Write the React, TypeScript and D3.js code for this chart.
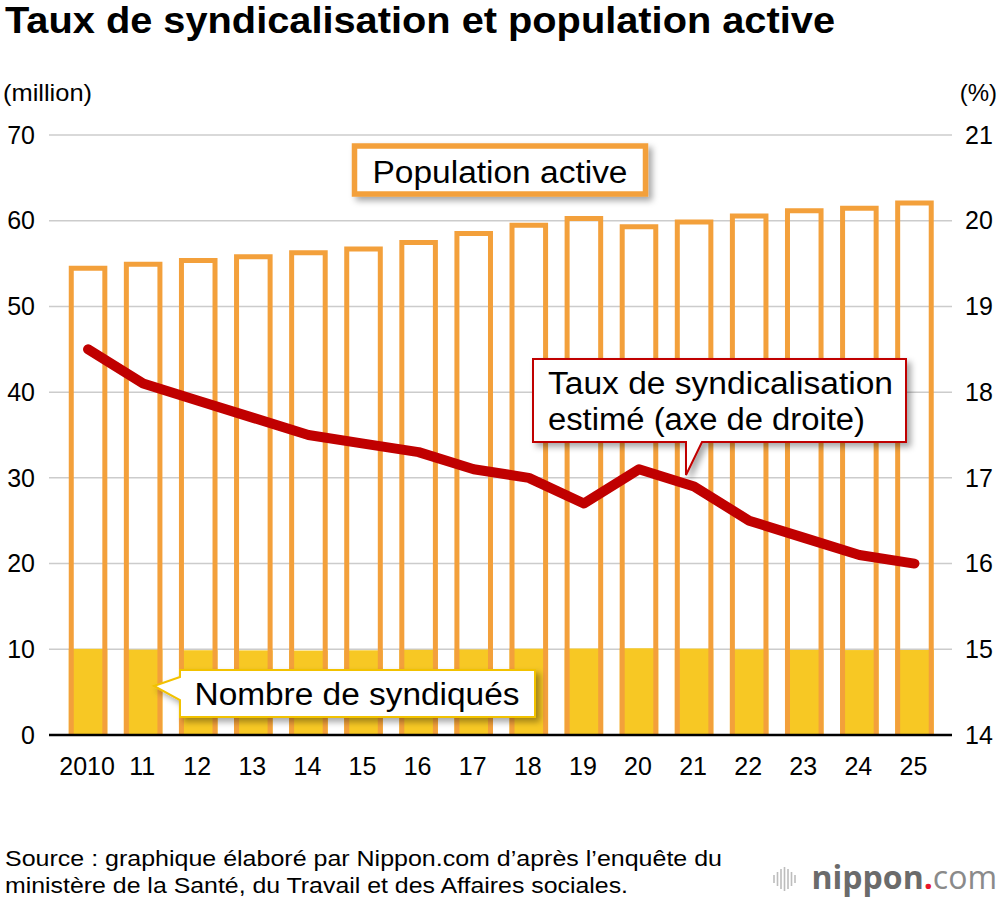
import React, { useEffect } from "react";
import * as d3 from "d3";

// années (axe x)
const years = ["2010", "11", "12", "13", "14", "15", "16", "17", "18", "19", "20", "21", "22", "23", "24", "25"];
// population active (millions)
const employees = [54.75, 55.2, 55.65, 56.1, 56.55, 57.0, 57.75, 58.8, 59.75, 60.55, 59.6, 60.15, 60.85, 61.45, 61.75, 62.35];
// nombre de syndiqués (millions)
const members = [10.05, 9.96, 9.89, 9.87, 9.85, 9.88, 9.94, 9.98, 10.07, 10.09, 10.12, 10.08, 9.99, 9.94, 9.91, 9.92];
// taux de syndicalisation estimé (%)
const rate = [18.5, 18.1, 17.9, 17.7, 17.5, 17.4, 17.3, 17.1, 17.0, 16.7, 17.1, 16.9, 16.5, 16.3, 16.1, 16.0];

const leftTicks = [0, 10, 20, 30, 40, 50, 60, 70];
const rightTicks = [14, 15, 16, 17, 18, 19, 20, 21];

const ORANGE = "#f3a03b";
const YELLOW = "#f7c824";
const RED = "#c00000";
const FONT = "'Liberation Sans', Arial, Helvetica, sans-serif";
const LOGO_FONT = "'Open Sans', 'DejaVu Sans', sans-serif";

const App: React.FC = () => {
  useEffect(() => {
    document.body.style.margin = "0";
  }, []);

  const x = d3
    .scaleBand<string>()
    .domain(years)
    .range([60.5, 942])
    .paddingInner(0.3)
    .paddingOuter(0.15);
  const yL = d3.scaleLinear().domain([0, 70]).range([735, 135]);
  const yR = d3.scaleLinear().domain([14, 21]).range([735, 135]);
  const bw = x.bandwidth();
  const sw = 5;

  const line = d3
    .line<number>()
    .x((_, i) => x(years[i])! + bw / 2)
    .y((d) => yR(d));

  return (
    <svg width={1000} height={902} style={{ display: "block", background: "#fff" }} fontFamily={FONT}>
      <defs>
        <filter id="shadow" x="-10%" y="-30%" width="130%" height="180%">
          <feDropShadow dx="4" dy="4" stdDeviation="3" floodColor="#000" floodOpacity="0.35" />
        </filter>
      </defs>

      <text x={5} y={33} fontSize={36} fontWeight="bold" textLength={830} lengthAdjust="spacingAndGlyphs">
        Taux de syndicalisation et population active
      </text>
      <text x={3} y={101} fontSize={24} textLength={89} lengthAdjust="spacingAndGlyphs">
        (million)
      </text>
      <text x={997} y={101} fontSize={24} textAnchor="end">
        (%)
      </text>

      {/* grille */}
      {leftTicks.filter((t) => t > 0).map((t) => (
        <line key={t} x1={49} x2={952} y1={yL(t)} y2={yL(t)} stroke="#cccccc" strokeWidth={1.5} />
      ))}

      {/* tick labels */}
      {leftTicks.map((t) => (
        <text key={t} x={35} y={yL(t)} dy="0.35em" fontSize={25} textAnchor="end">
          {t}
        </text>
      ))}
      {rightTicks.map((t) => (
        <text key={t} x={965} y={yR(t)} dy="0.35em" fontSize={25}>
          {t}
        </text>
      ))}
      {years.map((yr) => (
        <text key={yr} x={x(yr)! + bw / 2 - 1} y={775} fontSize={25} textAnchor="middle">
          {yr}
        </text>
      ))}

      {/* syndiqués */}
      {members.map((v, i) => (
        <rect key={i} x={x(years[i])} y={yL(v)} width={bw} height={yL(0) - yL(v)} fill={YELLOW} />
      ))}
      {/* population active */}
      {employees.map((v, i) => {
        const x0 = x(years[i])! + sw / 2;
        const x1 = x(years[i])! + bw - sw / 2;
        const top = yL(v) + sw / 2;
        return (
          <path
            key={i}
            d={`M${x0},${yL(0)}V${top}H${x1}V${yL(0)}`}
            fill="none"
            stroke={ORANGE}
            strokeWidth={sw}
          />
        );
      })}

      <line x1={49} x2={952} y1={yL(0)} y2={yL(0)} stroke="#000" strokeWidth={2.5} />

      <path d={line(rate)!} fill="none" stroke={RED} strokeWidth={10} strokeLinejoin="round" strokeLinecap="round" />

      {/* Population active */}
      <g filter="url(#shadow)">
        <rect x={354.5} y={146} width={291} height={48} fill="#fff" stroke={ORANGE} strokeWidth={5.5} />
      </g>
      <text x={500} y={183} fontSize={31} textAnchor="middle" textLength={255} lengthAdjust="spacingAndGlyphs">
        Population active
      </text>

      {/* Taux callout */}
      <path
        d="M533,359H906V442H702L686,475V442H533Z"
        fill="#fff"
        stroke={RED}
        strokeWidth={2}
        filter="url(#shadow)"
      />
      <text x={548} y={394} fontSize={31} textLength={345} lengthAdjust="spacingAndGlyphs">
        Taux de syndicalisation
      </text>
      <text x={548} y={430} fontSize={31} textLength={317} lengthAdjust="spacingAndGlyphs">
        estimé (axe de droite)
      </text>

      {/* Nombre callout */}
      <path
        d="M180,670H535V717H180V700L154,686L180,677Z"
        fill="#fff"
        stroke="#f2c200"
        strokeWidth={2}
        filter="url(#shadow)"
      />
      <text x={357} y={705} fontSize={31} textAnchor="middle" textLength={325} lengthAdjust="spacingAndGlyphs">
        Nombre de syndiqués
      </text>

      {/* source */}
      <text x={5} y={866} fontSize={22} textLength={717} lengthAdjust="spacingAndGlyphs">
        Source : graphique élaboré par Nippon.com d’après l’enquête du
      </text>
      <text x={5} y={893} fontSize={22} textLength={623} lengthAdjust="spacingAndGlyphs">
        ministère de la Santé, du Travail et des Affaires sociales.
      </text>

      {/* logo */}
      <g stroke="#bdbdbd" strokeWidth={1.6}>
        {[8, 14, 20, 24, 20, 14, 8].map((h, i) => (
          <line key={i} x1={774 + i * 3.5} x2={774 + i * 3.5} y1={879 - h / 2} y2={879 + h / 2} />
        ))}
      </g>
      <text x={997} y={889} fontSize={32} fontFamily={LOGO_FONT} textAnchor="end">
        <tspan fill="#6b6b6b" fontWeight="bold">nippon</tspan>
        <tspan fill="#e8162b" fontWeight="bold">.</tspan>
        <tspan fill="#8a8a8a">com</tspan>
      </text>
    </svg>
  );
};

export default App;
